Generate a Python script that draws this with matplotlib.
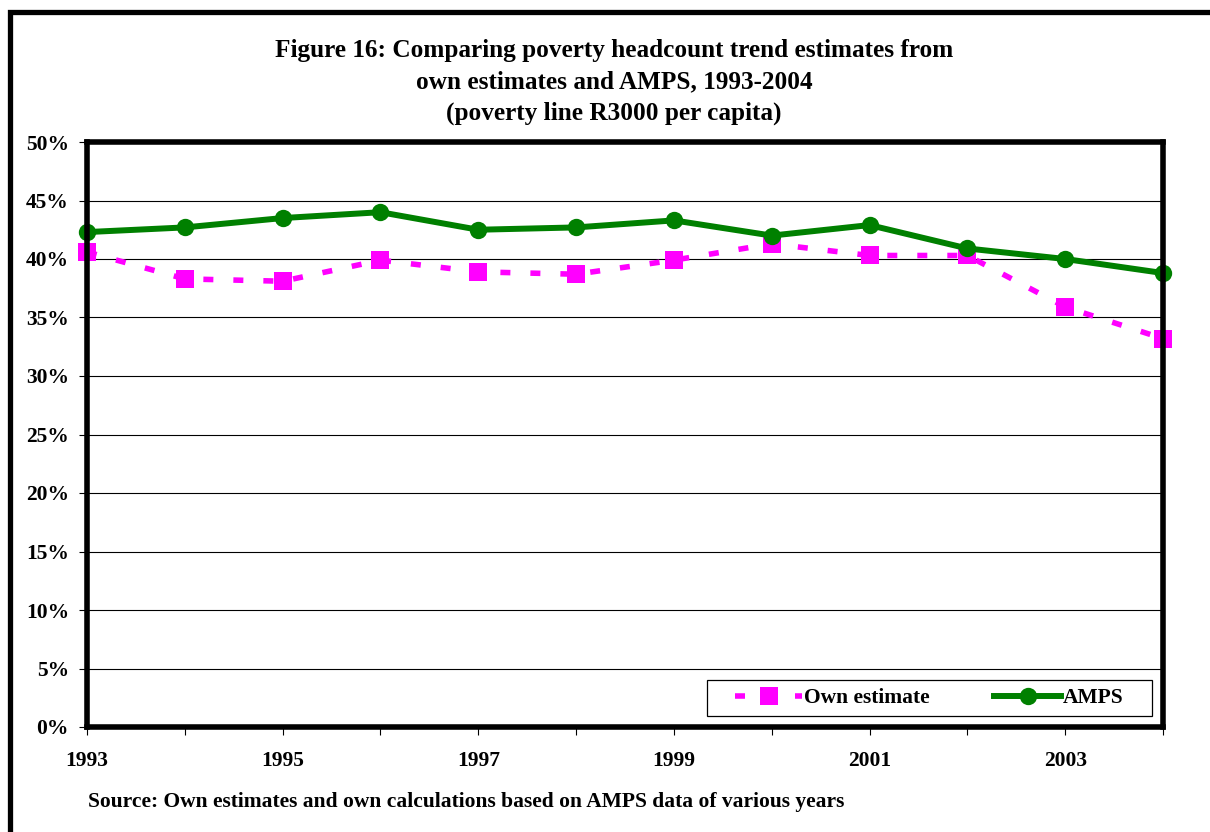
import matplotlib
matplotlib.use("Agg")
import matplotlib.pyplot as plt
from matplotlib.patches import Rectangle
from matplotlib.ticker import FuncFormatter, MultipleLocator

years = [1993, 1994, 1995, 1996, 1997, 1998, 1999, 2000, 2001, 2002, 2003, 2004]
own_estimate = [40.6, 38.3, 38.1, 39.9, 38.9, 38.7, 39.9, 41.3, 40.3, 40.3, 35.9, 33.2]
amps = [42.3, 42.7, 43.5, 44.0, 42.5, 42.7, 43.3, 42.0, 42.9, 40.9, 40.0, 38.8]
xtick_labels = ["1993", "", "1995", "", "1997", "", "1999", "", "2001", "", "2003", ""]

title_lines = ["Figure 16: Comparing poverty headcount trend estimates from",
               "own estimates and AMPS, 1993-2004",
               "(poverty line R3000 per capita)"]
source_text = "Source: Own estimates and own calculations based on AMPS data of various years"

plt.rcParams['font.family'] = ['Liberation Serif', 'DejaVu Serif']
plt.rcParams['font.weight'] = 'bold'

W, H = 1210, 832
fig = plt.figure(figsize=(W / 100, H / 100), dpi=100)
fig.patch.set_facecolor('white')

# outer border (extends past right and bottom edges)
fig.patches.append(Rectangle((10 / W, -0.2), 1.5, 1 - 12 / H + 0.2,
                             transform=fig.transFigure, fill=False,
                             edgecolor='black', linewidth=3.8, zorder=0))

ax_l, ax_r, ax_t, ax_b = 87, 1163, 142, 727
ax = fig.add_axes([ax_l / W, 1 - ax_b / H, (ax_r - ax_l) / W, (ax_b - ax_t) / H])
ax.set_xlim(1993, 2004)
ax.set_ylim(0, 50)

ax.yaxis.set_major_locator(MultipleLocator(5))
ax.yaxis.set_major_formatter(FuncFormatter(lambda v, p: f"{v:.0f}%"))
ax.set_xticks(years)
ax.set_xticklabels(xtick_labels)

ax.grid(axis='y', color='black', linewidth=0.8, zorder=1)
ax.set_axisbelow(True)

ax.plot(years, own_estimate, color='#FF00FF', linewidth=4.0, dashes=(1.8, 3.6),
        marker='s', markersize=13, markeredgewidth=0, label='Own estimate',
        zorder=3, clip_on=False)
ax.plot(years, amps, color='#008000', linewidth=4.3, marker='o',
        markersize=12.5, markeredgewidth=0, label='AMPS', zorder=4, clip_on=False)

for s in ax.spines.values():
    s.set_linewidth(4)
    s.set_color('black')
    s.set_zorder(5)

ax.tick_params(axis='both', direction='out', length=5.5, width=0.8,
               labelsize=15.5, colors='black')
ax.tick_params(axis='y', pad=7.5)
ax.tick_params(axis='x', pad=11.5)
for lbl in ax.get_xticklabels() + ax.get_yticklabels():
    lbl.set_fontweight('bold')

# legend frame drawn manually
def ax_x(px):
    return (px - ax_l) / (ax_r - ax_l)

def ax_y(py):
    return (ax_b - py) / (ax_b - ax_t)

lx0, lx1, ly0, ly1 = 707, 1152, 680, 716
ax.add_patch(Rectangle((ax_x(lx0), ax_y(ly1)), ax_x(lx1) - ax_x(lx0),
                       ax_y(ly0) - ax_y(ly1), transform=ax.transAxes,
                       facecolor='white', edgecolor='black', linewidth=0.9,
                       zorder=6, clip_on=False))
leg = ax.legend(loc='center',
                bbox_to_anchor=((ax_x(lx0) + ax_x(lx1)) / 2, (ax_y(ly0) + ax_y(ly1)) / 2),
                ncol=2, fontsize=15.5, frameon=False,
                borderaxespad=0, handlelength=3.1, handletextpad=0.1,
                columnspacing=3.0, borderpad=0.0)
leg.set_zorder(7)
for t in leg.get_texts():
    t.set_fontweight('bold')

title_y = [51, 82, 113]
for line, y in zip(title_lines, title_y):
    fig.text(614 / W, 1 - y / H, line, ha='center', va='center',
             fontsize=18.2, fontweight='bold')

fig.text(88 / W, 1 - 802 / H, source_text, ha='left', va='center',
         fontsize=15.5, fontweight='bold')

fig.savefig('out.png', dpi=100)
